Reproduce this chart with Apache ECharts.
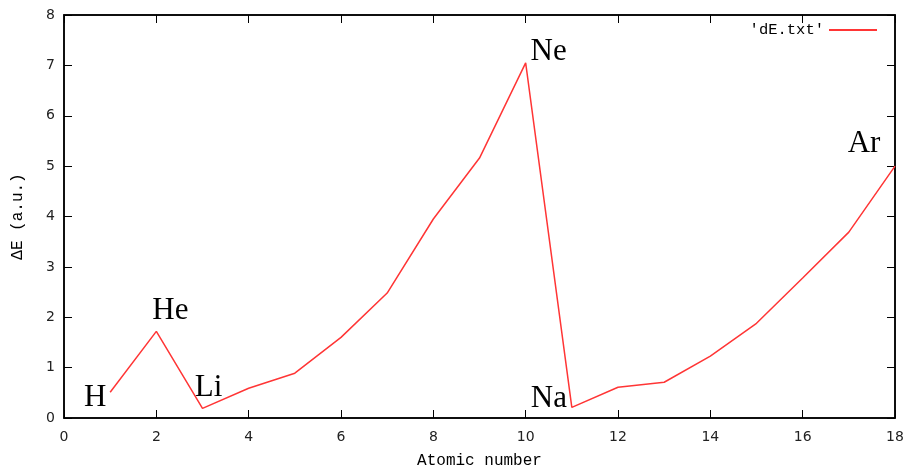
<!DOCTYPE html>
<html>
<head>
    <meta charset="UTF-8">
    <title>dE</title>
    <script type="text/javascript" src="https://cdn.jsdelivr.net/npm/echarts@6/dist/echarts.min.js"></script>
    <style type="text/css">
        html, body { margin: 0; padding: 0; background: #fff; }
        #chart { width: 912px; height: 474px; }
    </style>
</head>
<body>
<div id="chart"></div>
<script type="text/javascript">
    // values
    var atomicNumber = [1, 2, 3, 4, 5, 6, 7, 8, 9, 10, 11, 12, 13, 14, 15, 16, 17, 18];
    var deltaE = [0.51, 1.72, 0.19, 0.59, 0.89, 1.6, 2.48, 3.95, 5.16, 7.05, 0.21, 0.61, 0.71, 1.23, 1.88, 2.78, 3.69, 5.0];
    var elementNames = ['H', 'He', 'Li', 'Ne', 'Na', 'Ar'];
    var elementAtoms = [1, 2, 3, 10, 11, 18];

    // where each element name sits relative to its point (px)
    var nameOffsets = {
        H: [-15, 6], He: [14, -20], Li: [6, -21],
        Ne: [23, -11], Na: [-23, -9], Ar: [-31, -22]
    };

    var lineData = [];
    for (var i = 0; i < atomicNumber.length; i++) {
        lineData.push([atomicNumber[i], deltaE[i]]);
    }
    var nameData = [];
    for (var j = 0; j < elementNames.length; j++) {
        var k = atomicNumber.indexOf(elementAtoms[j]);
        nameData.push({
            value: [elementAtoms[j], deltaE[k]],
            name: elementNames[j],
            label: { offset: nameOffsets[elementNames[j]] }
        });
    }

    var mono = 'Liberation Mono';
    function tickStyle() {
        return { show: true, inside: true, length: 8, lineStyle: { color: '#000', width: 1 } };
    }
    function lineStyle() {
        return { show: true, onZero: false, lineStyle: { color: '#000', width: 1.5 } };
    }
    var tickFont = { color: '#222', fontFamily: 'DejaVu Sans', fontSize: 14 };

    var chart = echarts.init(document.getElementById('chart'));
    chart.setOption({
        animation: false,
        grid: { left: 64, right: 17, top: 15, bottom: 56, show: true, borderColor: '#000', borderWidth: 1.5 },
        legend: {
            top: 17, right: 30,
            align: 'right',
            icon: 'rect',
            itemWidth: 48, itemHeight: 2,
            textStyle: { fontFamily: mono, fontSize: 15.5, color: '#000' },
            data: ["'dE.txt'"]
        },
        xAxis: [{
            type: 'value', min: 0, max: 18, interval: 2,
            name: 'Atomic number', nameLocation: 'middle', nameGap: 35,
            nameTextStyle: { fontFamily: mono, fontSize: 16, color: '#000' },
            axisLine: lineStyle(), axisTick: tickStyle(),
            axisLabel: Object.assign({ margin: 12 }, tickFont),
            splitLine: { show: false }
        }, {
            type: 'value', min: 0, max: 18, interval: 2, position: 'top',
            axisLine: lineStyle(), axisTick: tickStyle(), axisLabel: { show: false }, splitLine: { show: false }
        }],
        yAxis: [{
            type: 'value', min: 0, max: 8, interval: 1, position: 'left',
            name: 'ΔE (a.u.)', nameLocation: 'middle', nameGap: 38,
            nameTextStyle: { fontFamily: mono, fontSize: 16, color: '#000' },
            axisLine: lineStyle(), axisTick: tickStyle(),
            axisLabel: Object.assign({ margin: 9 }, tickFont),
            splitLine: { show: false }
        }, {
            type: 'value', min: 0, max: 8, interval: 1, position: 'right',
            axisLine: lineStyle(), axisTick: tickStyle(), axisLabel: { show: false }, splitLine: { show: false }
        }],
        series: [{
            name: "'dE.txt'",
            type: 'line',
            data: lineData,
            showSymbol: false,
            symbol: 'none',
            lineStyle: { color: '#ff3535', width: 1.5 },
            itemStyle: { color: '#ff3535' }
        }, {
            name: 'elements',
            type: 'scatter',
            data: nameData,
            symbolSize: 0,
            silent: true,
            itemStyle: { opacity: 1 },
            label: {
                show: true,
                position: 'inside',
                formatter: '{b}',
                fontFamily: 'Liberation Serif',
                fontSize: 31,
                color: '#000'
            }
        }]
    });
</script>
</body>
</html>
